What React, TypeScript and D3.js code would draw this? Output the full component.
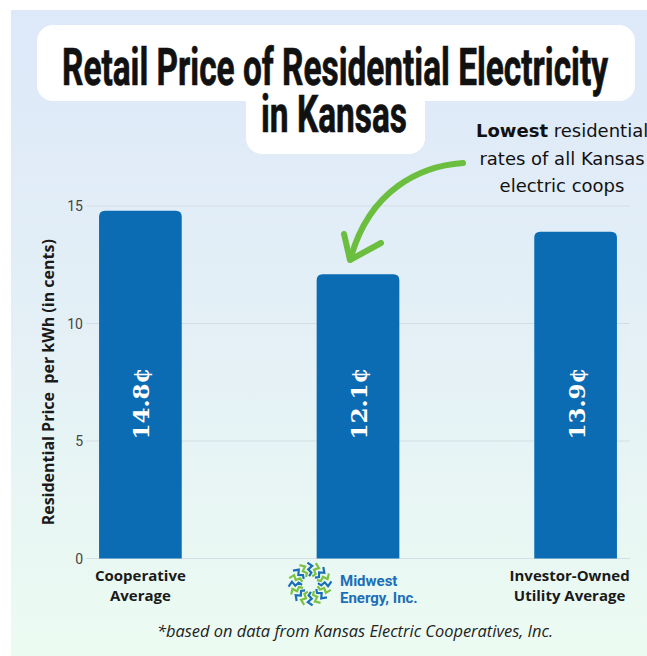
import { scaleBand, scaleLinear, range } from "d3";

// data
const categories = ["Cooperative Average", "Midwest Energy, Inc.", "Investor-Owned Utility Average"];
const prices = [14.8, 12.1, 13.9];
const yTicks = [0, 5, 10, 15];
const titleLines = ["Retail Price of Residential Electricity", "in Kansas"];
const noteLines = ["residential", "rates of all Kansas", "electric coops"];

const W = 647;
const H = 656;

const x = scaleBand<string>().domain(categories).range([86, 630]).paddingInner(0.62).paddingOuter(0.06);
const y = scaleLinear().domain([0, 15]).range([558.5, 206]);

const barColor = "#0b6cb4";
const green = "#6cbf3e";

// rounded top corners only
const barPath = (x0: number, y0: number, w: number, y1: number, r: number) =>
  `M${x0},${y1}V${y0 + r}Q${x0},${y0} ${x0 + r},${y0}H${x0 + w - r}Q${x0 + w},${y0} ${x0 + w},${y0 + r}V${y1}Z`;

const Logo = ({ cx, cy }: { cx: number; cy: number }) => {
  const spokes = range(16);
  return (
    <g transform={`translate(${cx},${cy})`}>
      {spokes.map((i) => {
        const a = (i / 16) * Math.PI * 2;
        const pts = range(5).map((k) => {
          const r = 8 + k * 3.4;
          const off = (k % 2 === 0 ? -1 : 1) * 0.12;
          return [Math.cos(a + off) * r, Math.sin(a + off) * r];
        });
        return (
          <polyline
            key={i}
            points={pts.map((p) => p.join(",")).join(" ")}
            fill="none"
            stroke={i % 2 === 0 ? "#1b6fb8" : "#7cc242"}
            strokeWidth={2.2}
          />
        );
      })}
    </g>
  );
};

export default function App() {
  const base = y(0);
  const cx = (i: number) => x(categories[i])! + x.bandwidth() / 2;
  return (
    <svg width={W} height={H} style={{ position: "absolute", left: 0, top: 0 }}>
      <defs>
        <linearGradient id="bg" x1="0" y1="0" x2="0" y2="1">
          <stop offset="0" stopColor="#dde8f9" />
          <stop offset="0.5" stopColor="#e4f0f6" />
          <stop offset="1" stopColor="#ecfbf2" />
        </linearGradient>
      </defs>
      <rect x={0} y={0} width={W} height={H} fill="#fff" />
      <rect x={11} y={10} width={W - 11} height={H - 10} fill="url(#bg)" />

      {/* title box */}
      <rect x={37} y={25} width={598} height={76} rx={16} fill="#fff" />
      <rect x={246} y={80} width={179} height={74} rx={16} fill="#fff" />
      <g fontFamily="Roboto, sans-serif" fontWeight={700} fontSize={52} fill="#111" stroke="#111" strokeWidth={0.7}>
        <text x={62} y={85} textLength={546} lengthAdjust="spacingAndGlyphs">
          {titleLines[0]}
        </text>
        <text x={261} y={132} textLength={146} lengthAdjust="spacingAndGlyphs">
          {titleLines[1]}
        </text>
      </g>

      {/* annotation */}
      <g fontFamily="'DejaVu Sans', sans-serif" fontSize={18} fill="#111">
        <text x={476} y={137}>
          <tspan fontWeight={700}>Lowest</tspan> {noteLines[0]}
        </text>
        <text x={562} y={165} textAnchor="middle">{noteLines[1]}</text>
        <text x={562} y={192} textAnchor="middle">{noteLines[2]}</text>
      </g>

      {/* gridlines */}
      {yTicks.map((t) => (
        <g key={t}>
          <line x1={86} x2={630} y1={y(t)} y2={y(t)} stroke="#d5dde4" strokeWidth={1} />
          <text x={83} y={y(t) + 5} textAnchor="end" fontFamily="Roboto, sans-serif" fontSize={14} fill="#444">
            {t}
          </text>
        </g>
      ))}

      {/* y axis title */}
      <text
        transform={`translate(54,${(y(0) + y(15)) / 2}) rotate(-90)`}
        textAnchor="middle"
        fontFamily="'Open Sans', sans-serif"
        fontWeight={700}
        fontSize={16}
        fill="#1a1a1a"
        style={{ whiteSpace: "pre" }}
      >
        Residential Price  per kWh (in cents)
      </text>

      {/* bars */}
      {categories.map((c, i) => {
        const bx = x(c)!;
        const bw = x.bandwidth();
        return (
          <g key={c}>
            <path d={barPath(bx, y(prices[i]), bw, base, 6)} fill={barColor} />
            <text
              transform={`translate(${bx + bw / 2 + 9},${y(6.6)}) rotate(-90)`}
              textAnchor="middle"
              fontFamily="'DejaVu Serif', serif"
              fontWeight={700}
              fontSize={23}
              fill="#fff"
            >
              {prices[i].toFixed(1)}¢
            </text>
          </g>
        );
      })}

      {/* arrow */}
      <g fill="none" stroke={green} strokeWidth={6} strokeLinecap="round" strokeLinejoin="round">
        <path d="M463,163 C420,166 370,190 351,257" />
        <path d="M344,234 L350,260 L381,243" />
      </g>

      {/* category labels */}
      <g fontFamily="'Open Sans', sans-serif" fontWeight={700} fontSize={15} fill="#1a1a1a" textAnchor="middle">
        <text x={cx(0)} y={581}>Cooperative</text>
        <text x={cx(0)} y={601}>Average</text>
        <text x={cx(2) - 6} y={581}>Investor-Owned</text>
        <text x={cx(2) - 6} y={601}>Utility Average</text>
      </g>

      {/* Midwest Energy logo */}
      <Logo cx={310} cy={584} />
      <g fontFamily="Roboto, sans-serif" fontWeight={700} fontSize={15} fill="#1b6fb8">
        <text x={340} y={586}>Midwest</text>
        <text x={340} y={603}>Energy, Inc.</text>
      </g>

      {/* footnote */}
      <text
        x={355}
        y={637}
        textAnchor="middle"
        fontFamily="'Open Sans', sans-serif"
        fontStyle="italic"
        fontSize={16}
        textLength={396}
        lengthAdjust="spacingAndGlyphs"
        fill="#222"
      >
        *based on data from Kansas Electric Cooperatives, Inc.
      </text>
    </svg>
  );
}
